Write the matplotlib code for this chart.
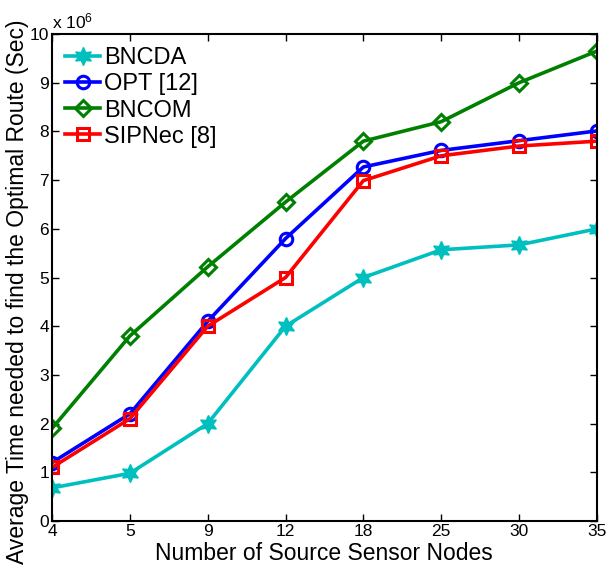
import matplotlib

matplotlib.use("Agg")
import matplotlib.pyplot as plt
import numpy as np

plt.rcParams.update({"font.family": "sans-serif",
                     "font.sans-serif": ["Liberation Sans", "DejaVu Sans"],
                     "mathtext.fontset": "custom",
                     "mathtext.rm": "Liberation Sans"})

# x categories (equally spaced in the figure)
nodes = ["4", "5", "9", "12", "18", "25", "30", "35"]

# values in units of 1e6 seconds
bncda = [0.68, 0.98, 2.0, 4.0, 5.0, 5.57, 5.67, 6.0]
opt12 = [1.2, 2.2, 4.1, 5.8, 7.27, 7.61, 7.81, 8.01]
bncom = [1.9, 3.8, 5.22, 6.55, 7.8, 8.2, 9.0, 9.65]
sipnec8 = [1.1, 2.1, 4.0, 5.0, 6.99, 7.5, 7.7, 7.8]

CYAN = "#00bfbf"
BLUE = "#0000ff"
GREEN = "#008000"
RED = "#ff0000"

fig = plt.figure(figsize=(6.06, 5.67), dpi=100, facecolor="white")
ax = fig.add_axes([0.0858, 0.0811, 0.8992, 0.8589])

x = np.arange(len(nodes))
lw = 2.6
ax.plot(x, bncda, color=CYAN, lw=lw, marker=(6, 1, 0), ms=13, mfc=CYAN, mec=CYAN,
        label="BNCDA")
ax.plot(x, opt12, color=BLUE, lw=lw, marker="o", ms=9, mfc="none", mec=BLUE, mew=2.2,
        label="OPT [12]")
ax.plot(x, bncom, color=GREEN, lw=lw, marker="D", ms=8.5, mfc="none", mec=GREEN, mew=2.2,
        label="BNCOM")
ax.plot(x, sipnec8, color=RED, lw=lw, marker="s", ms=8.5, mfc="none", mec=RED, mew=2.2,
        label="SIPNec [8]")

ax.set_xlim(0, len(nodes) - 1)
ax.set_ylim(0, 10)
ax.set_xticks(x, nodes)
ax.set_yticks(np.arange(0, 11, 1))
ax.tick_params(direction="in", top=True, right=True, length=5, width=1,
               labelsize=12.5, colors="black", pad=2)
for sp in ax.spines.values():
    sp.set_linewidth(1.5)
    sp.set_color("black")

ax.text(0.0, 1.005, r"x 10$^{6}$", transform=ax.transAxes, ha="left", va="bottom",
        fontsize=12.5)

fig.text(324 / 606, 1 - 553 / 567, "Number of Source Sensor Nodes", fontsize=16.5,
         ha="center", va="center")
fig.text(18 / 606, 1 - 292 / 567, "Average Time needed to find the Optimal Route (Sec)",
         fontsize=16.5, ha="center", va="center", rotation=90)

ax.legend(loc="upper left", frameon=False, fontsize=17, handlelength=1.5,
          handletextpad=0.15, labelspacing=0.18, borderaxespad=0.15)

fig.savefig("out.png", dpi=100, facecolor="white")
